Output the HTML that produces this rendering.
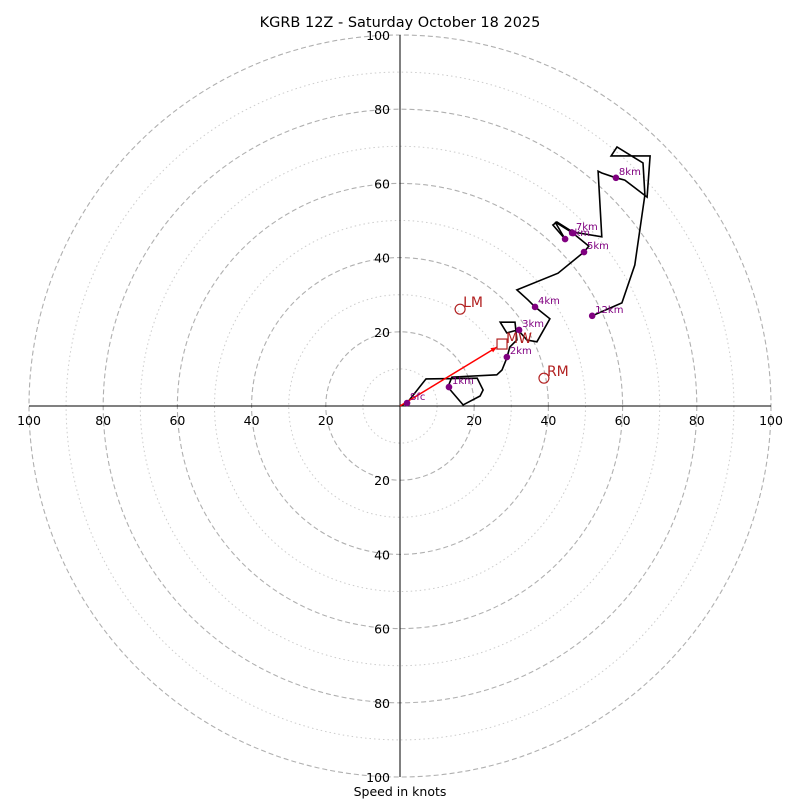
<!DOCTYPE html>
<html><head><meta charset="utf-8"><style>
body{margin:0;background:#fff}
svg{display:block;font-family:"DejaVu Sans","Liberation Sans",sans-serif}
</style></head><body>
<svg id="chart" width="800" height="800" viewBox="0 0 800 800">
<rect width="800" height="800" fill="#fff"/>
<text x="400" y="27" text-anchor="middle" font-size="14.5">KGRB 12Z - Saturday October 18 2025</text>
<g id="rings"></g>
<g id="axes"></g>
<g id="plot"></g>
<text x="400" y="796" text-anchor="middle" font-size="12.5">Speed in knots</text>
</svg>
<script>
const ringSpeeds=[10,20,30,40,50,60,70,80,90,100];
const tickLabels=[20,40,60,80,100];
const hodoU=[0,1.9,7.0,20.8,22.4,21.6,17.0,12.9,14.0,26.1,27.5,28.8,29.6,31.5,31.0,27.0,28.8,31.8,34.2,36.9,40.4,36.4,34.5,31.5,42.6,49.6,50.9,46.6,41.8,44.5,41.2,42.3,46.6,54.4,53.4,54.4,58.2,60.6,66.6,67.4,56.9,58.5,65.5,66.0,63.3,59.8,51.8];
const hodoV=[0,0.8,7.3,7.5,4.3,2.7,0.3,5.1,7.8,8.4,9.7,12.9,15.9,17.8,22.6,22.6,19.7,20.5,17.8,17.3,23.5,26.7,28.6,31.3,35.8,41.5,43.1,46.6,49.6,45.0,48.8,49.6,46.9,45.6,63.3,62.8,61.5,60.9,56.3,67.4,67.4,69.8,65.5,56.9,38.0,27.8,24.3];
const markerLabels=["Sfc","1km","2km","3km","4km","5km","6km","7km","8km","12km"];
const markerU=[1.9,13.2,28.8,32.1,36.4,49.6,44.5,46.6,58.2,51.8];
const markerV=[0.8,5.1,13.2,20.5,26.7,41.5,45.0,46.6,61.5,24.3];
const motionLabels=["LM","RM"];
const motionU=[16.2,38.8];
const motionV=[26.1,7.5];
const meanWind=[27.5,16.7];

const NS="http://www.w3.org/2000/svg";
const cx=400,cy=406,k=3.71;
const sx=u=>cx+u*k, sy=v=>cy-v*k;
function mk(tag,attrs,parent,text){const e=document.createElementNS(NS,tag);for(const a in attrs)e.setAttribute(a,attrs[a]);if(text!==undefined)e.textContent=text;parent.appendChild(e);return e;}
const rings=document.getElementById('rings'),axes=document.getElementById('axes'),plot=document.getElementById('plot');
ringSpeeds.forEach(s=>{
  const major=s%20===0;
  const c=mk('circle',{cx:cx,cy:cy,r:s*k,fill:'none',stroke:major?'#b0b0b0':'#cccccc','stroke-width':major?1.1:1,'stroke-dasharray':major?'5,3':'1.5,3'},rings);
  
  
});
const xl=mk('line',{x1:sx(-100),y1:cy,x2:sx(100),y2:cy,stroke:'#000','stroke-width':1},axes);


const yl=mk('line',{x1:cx,y1:sy(100),x2:cx,y2:sy(-100),stroke:'#000','stroke-width':1},axes);


tickLabels.forEach(t=>{
  [-1,1].forEach(sg=>{
    const a=mk('text',{x:sx(sg*t),y:cy+19,'text-anchor':'middle','font-size':12.5},axes,String(t));
    
    
    const b=mk('text',{x:cx-10,y:sy(sg*t)+5,'text-anchor':'end','font-size':12.5},axes,String(t));
    
    
  });
});
const pts=hodoU.map((u,i)=>sx(u).toFixed(1)+','+sy(hodoV[i]).toFixed(1)).join(' ');
const pl=mk('polyline',{points:pts,fill:'none',stroke:'#000','stroke-width':1.6,'stroke-linejoin':'miter'},plot);


const ax2=sx(meanWind[0]),ay2=sy(meanWind[1]);
const ang=Math.atan2(ay2-cy,ax2-cx);
const ex=ax2-6*Math.cos(ang),ey=ay2-6*Math.sin(ang);
const ar=mk('line',{x1:cx,y1:cy,x2:ex,y2:ey,stroke:'#ff0000','stroke-width':1.5},plot);


const hx=ex-6*Math.cos(ang),hy=ey-6*Math.sin(ang),px=-Math.sin(ang)*2.5,py=Math.cos(ang)*2.5;
const ah=mk('polygon',{points:`${ex},${ey} ${hx+px},${hy+py} ${hx-px},${hy-py}`,fill:'#ff0000'},plot);


const sq=mk('rect',{x:ax2-5,y:ay2-5,width:10,height:10,fill:'none',stroke:'#b22222','stroke-width':1.2},plot);


const mwt=mk('text',{x:ax2+4,y:ay2-1,'font-size':14,fill:'#b22222'},plot,'MW');


motionLabels.forEach((l,i)=>{
  const c=mk('circle',{cx:sx(motionU[i]),cy:sy(motionV[i]),r:5,fill:'none',stroke:'#b22222','stroke-width':1.2},plot);
  
  
  const t=mk('text',{x:sx(motionU[i])+3,y:sy(motionV[i])-2,'font-size':14,fill:'#b22222'},plot,l);
  
  
});
markerLabels.forEach((l,i)=>{
  const c=mk('circle',{cx:sx(markerU[i]),cy:sy(markerV[i]),r:3.3,fill:'#800080'},plot);
  
  
  const t=mk('text',{x:sx(markerU[i])+3,y:sy(markerV[i])-3,'font-size':10,fill:'#800080'},plot,l);
  
  
});
</script>
</body></html>
